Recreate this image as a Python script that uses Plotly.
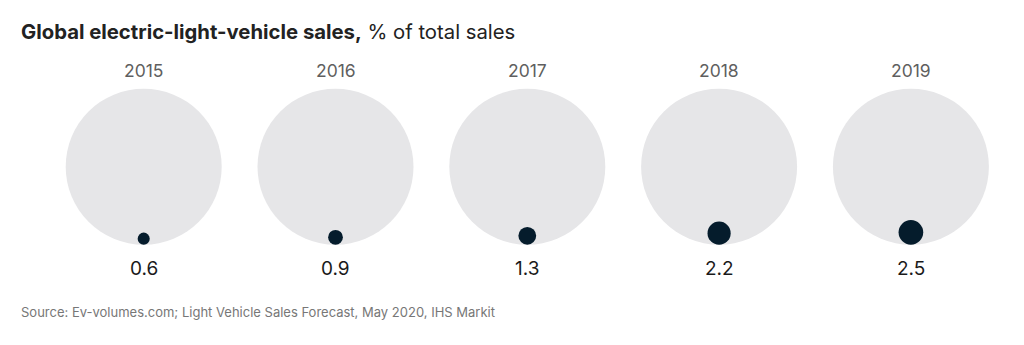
import plotly.graph_objects as go
import math

years = [2015, 2016, 2017, 2018, 2019]
year_labels = ["2015", "2016", "2017", "2018", "2019"]
ev_share = [0.6, 0.9, 1.3, 2.2, 2.5]
value_labels = ["0.6", "0.9", "1.3", "2.2", "2.5"]
total_share = [100, 100, 100, 100, 100]

W, H = 1024, 345
BIG_D = 156          # diameter in px of the 100% circle
CY = 166.7           # circle centre in px (y axis is px units, reversed)
PX_PER_YEAR = 191.8
X0_PX = 143.7

big_d = [BIG_D * math.sqrt(t / 100) for t in total_share]
dot_d = [BIG_D * math.sqrt(v / 100) for v in ev_share]
dot_y = [CY + BIG_D / 2 - d / 2 for d in dot_d]

fig = go.Figure()
fig.add_trace(go.Scatter(
    x=years, y=[CY] * len(years), mode="markers",
    marker=dict(size=big_d, color="#e6e6e8", opacity=1, line=dict(width=0)),
    hoverinfo="skip", showlegend=False))
fig.add_trace(go.Scatter(
    x=years, y=dot_y, mode="markers",
    marker=dict(size=dot_d, color="#051c2c", opacity=1, line=dict(width=0)),
    customdata=ev_share, hovertemplate="%{x}: %{customdata}%<extra></extra>",
    showlegend=False))

for yr, lab in zip(years, year_labels):
    fig.add_annotation(x=yr, y=70, xref="x", yref="y", text=lab, showarrow=False,
                       font=dict(family="Inter, Roboto, sans-serif", size=17.5, color="#5f5f5f"))
for yr, lab in zip(years, value_labels):
    fig.add_annotation(x=yr, y=268, xref="x", yref="y", text=lab, showarrow=False,
                       font=dict(family="Inter, Roboto, sans-serif", size=19, color="#1a1a1a"))

fig.add_annotation(x=19 / W, y=1 - 31 / H, xref="paper", yref="paper", xanchor="left", yanchor="middle",
                   text="<b>Global electric-light-vehicle sales,</b> % of total sales", showarrow=False,
                   font=dict(family="Inter, Roboto, sans-serif", size=20.3, color="#222222"))
fig.add_annotation(x=19 / W, y=1 - 312 / H, xref="paper", yref="paper", xanchor="left", yanchor="middle",
                   text="Source: Ev-volumes.com; Light Vehicle Sales Forecast, May 2020, IHS Markit", showarrow=False,
                   font=dict(family="Inter, Roboto, sans-serif", size=13, color="#777777"))

x_lo = years[0] - X0_PX / PX_PER_YEAR
x_hi = years[0] + (W - X0_PX) / PX_PER_YEAR
fig.update_layout(
    width=W, height=H, margin=dict(l=0, r=0, t=0, b=0),
    paper_bgcolor="white", plot_bgcolor="white",
    xaxis=dict(range=[x_lo, x_hi], visible=False, fixedrange=True),
    yaxis=dict(range=[H, 0], visible=False, fixedrange=True),
)
fig.write_html("out.html")
